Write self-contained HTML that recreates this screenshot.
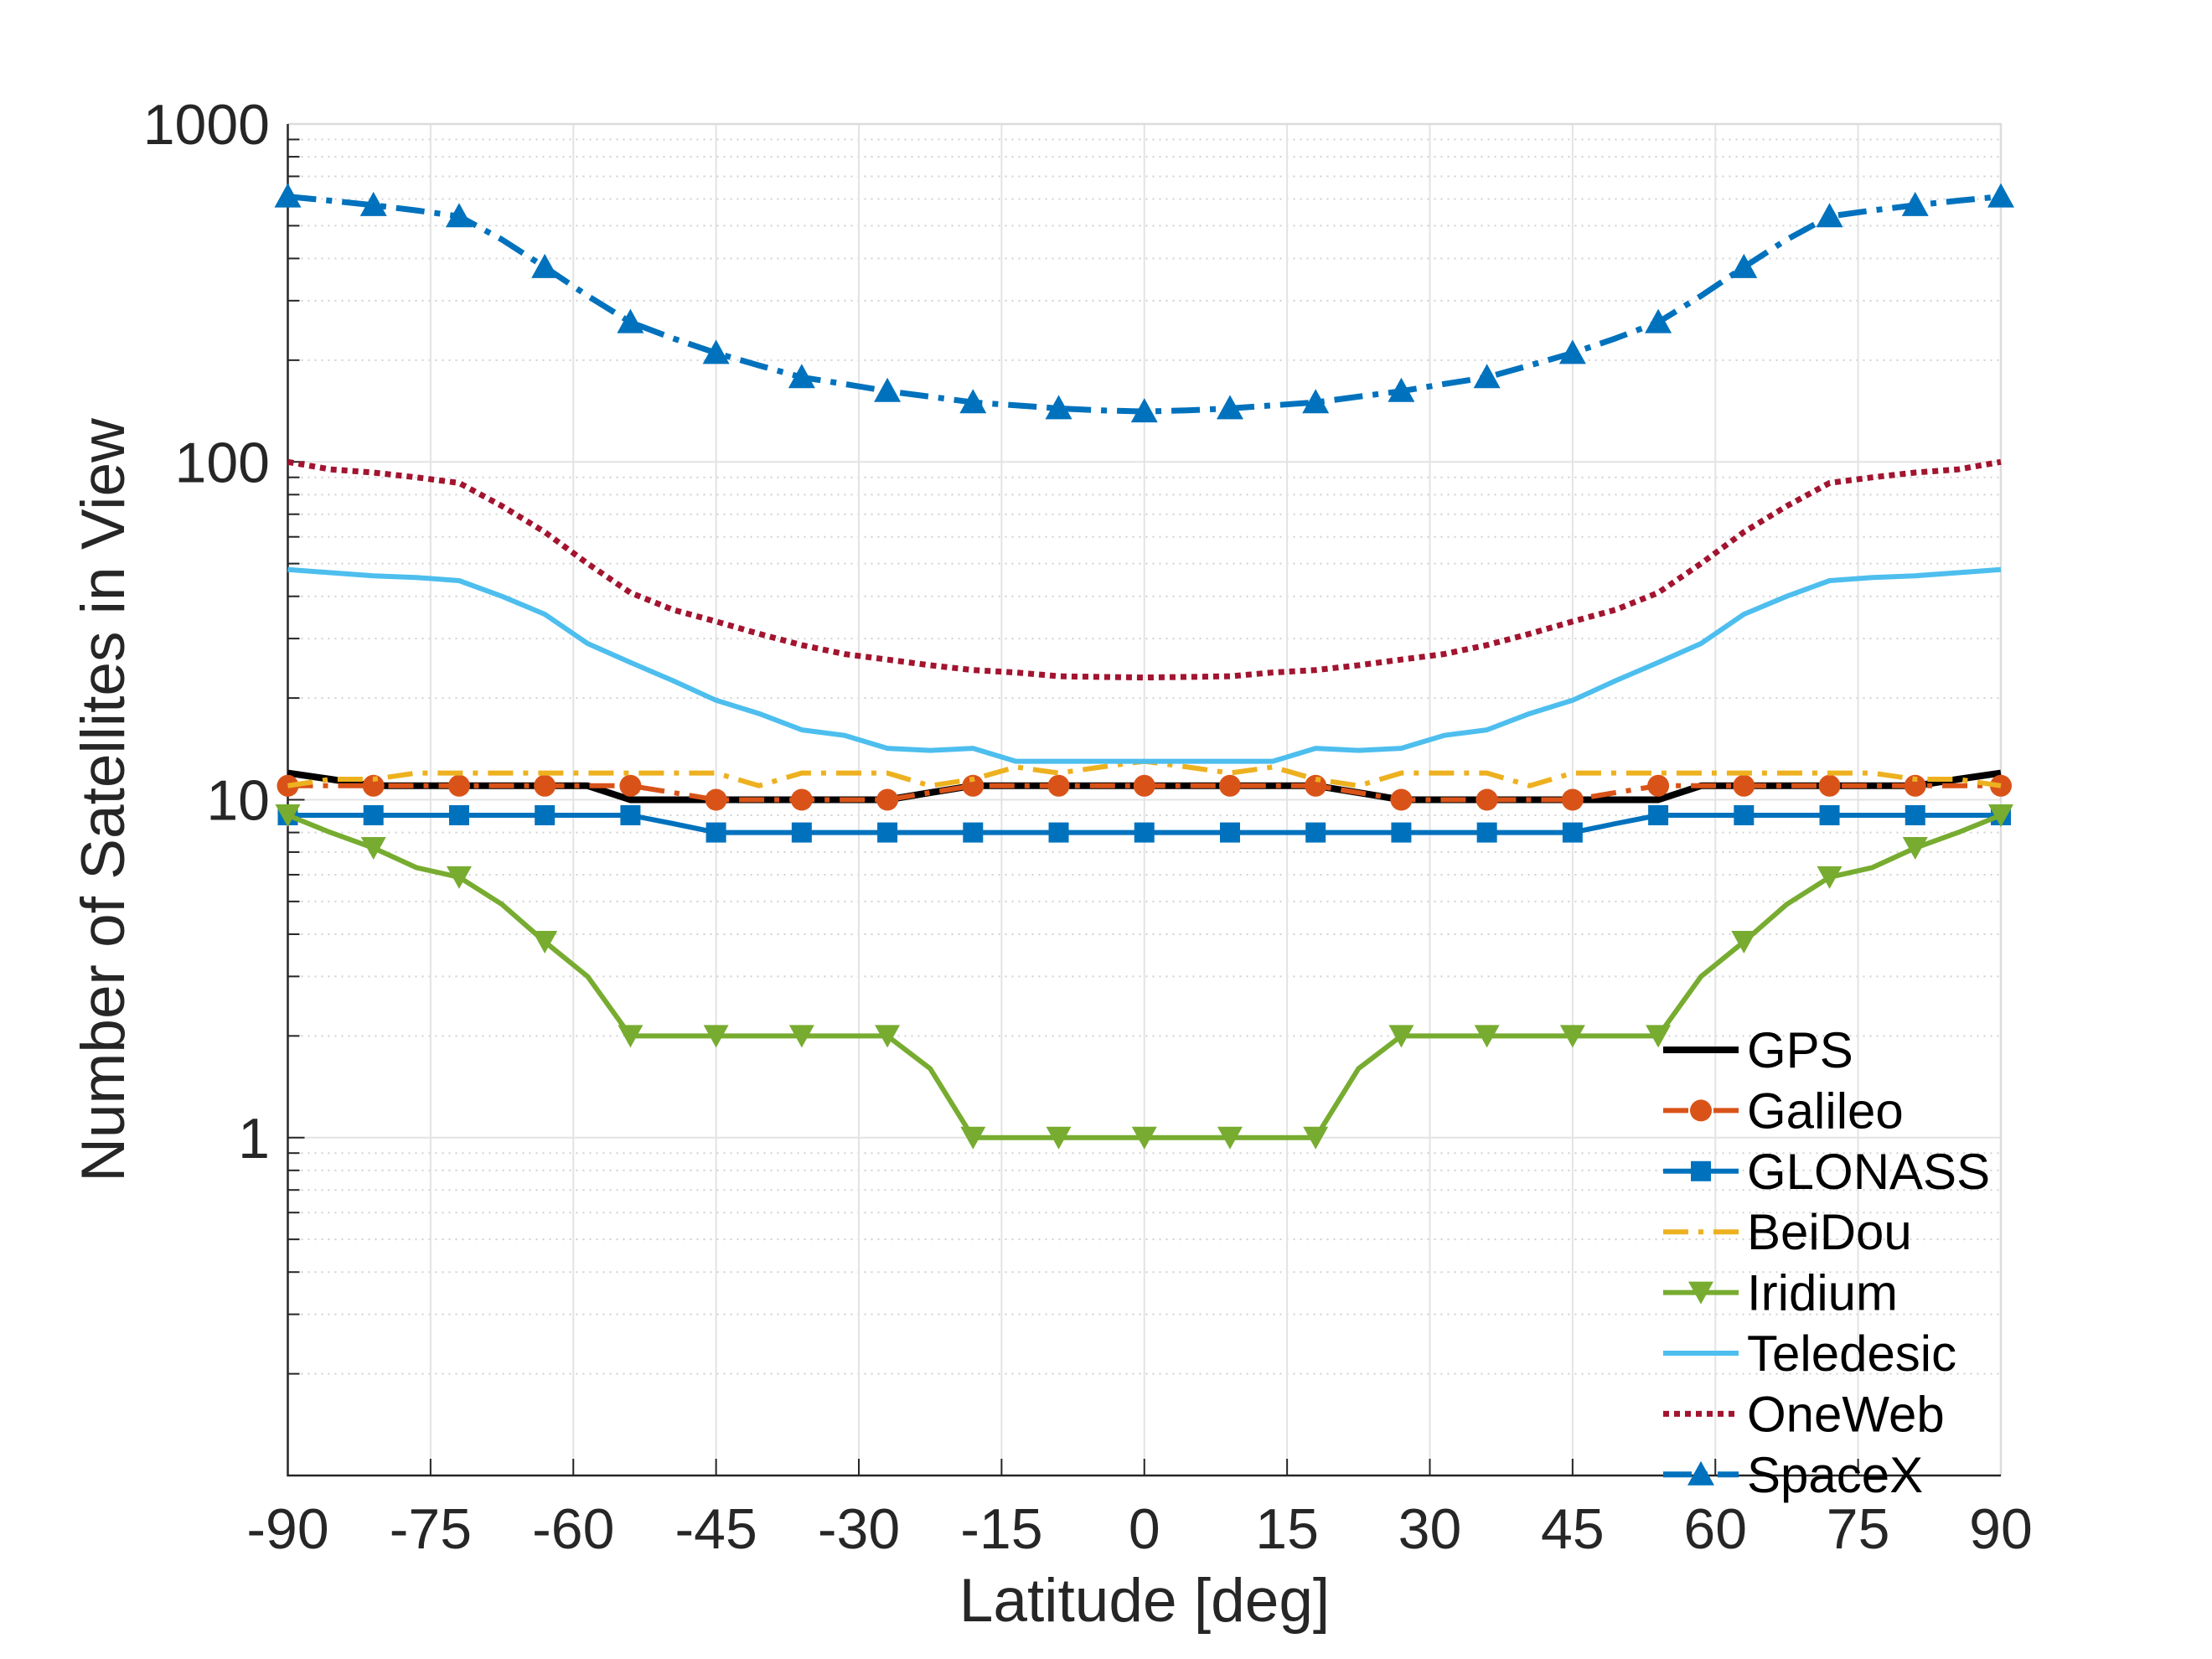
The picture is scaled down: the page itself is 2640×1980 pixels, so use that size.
<!DOCTYPE html>
<html><head><meta charset="utf-8"><style>
html,body{margin:0;padding:0;background:#fff;}
svg{display:block;font-family:"Liberation Sans",Arial,sans-serif;}
</style></head><body>
<svg id="chart" width="2640" height="1980" viewBox="0 0 2640 1980" xmlns="http://www.w3.org/2000/svg">
<g id="grid"></g>
<g id="axes"></g>
<g id="series"></g>
<g id="legend"></g>
<text x="1366" y="1935" font-size="73" text-anchor="middle" fill="#262626">Latitude [deg]</text>
<text x="0" y="0" font-size="73" text-anchor="middle" fill="#262626" transform="translate(148,955) rotate(-90)">Number of Satellites in View</text>
</svg>
<script>
const latitudes = [-90,-85.5,-81,-76.5,-72,-67.5,-63,-58.5,-54,-49.5,-45,-40.5,-36,-31.5,-27,-22.5,-18,-13.5,-9,-4.5,0,4.5,9,13.5,18,22.5,27,31.5,36,40.5,45,49.5,54,58.5,63,67.5,72,76.5,81,85.5,90];
const gpsValues = [12,11.5,11,11,11,11,11,11,10,10,10,10,10,10,10,10.5,11,11,11,11,11,11,11,11,11,10.5,10,10,10,10,10,10,10,11,11,11,11,11,11,11.5,12];
const galileoValues = [11,11,11,11,11,11,11,11,11,10.5,10,10,10,10,10,10.5,11,11,11,11,11,11,11,11,11,10.5,10,10,10,10,10,10.5,11,11,11,11,11,11,11,11,11];
const glonassValues = [9,9,9,9,9,9,9,9,9,8.5,8,8,8,8,8,8,8,8,8,8,8,8,8,8,8,8,8,8,8,8,8,8.5,9,9,9,9,9,9,9,9,9];
const beidouValues = [11,11.5,11.5,12,12,12,12,12,12,12,12,11,12,12,12,11,11.5,12.5,12,12.5,13,12.5,12,12.5,11.5,11,12,12,12,11,12,12,12,12,12,12,12,12,11.5,11.5,11];
const iridiumValues = [9,8,7.2,6.3,5.9,4.9,3.8,3,2,2,2,2,2,2,2,1.6,1,1,1,1,1,1,1,1,1,1.6,2,2,2,2,2,2,2,3,3.8,4.9,5.9,6.3,7.2,8,9];
const teledesicValues = [48,47,46,45.5,44.5,40,35.4,29,25.5,22.5,19.7,18,16.1,15.5,14.2,14,14.2,13,13,13,13,13,13,13,14.2,14,14.2,15.5,16.1,18,19.7,22.5,25.5,29,35.4,40,44.5,45.5,46,47,48];
const onewebValues = [100,95,93,90,86.6,74,62,50,41,36.5,33.7,31,28.7,27,26,25,24.2,23.8,23.2,23.1,23,23.1,23.2,23.8,24.2,25,26,27,28.7,31,33.7,36.5,41,50,62,74,86.6,90,93,95,100];
const spacexValues = [610,593,575,555,533,455,377,310,259,232,210,193,178,170,162,156,150,147,144,142,141,142,144,147,150,156,162,170,178,193,210,232,259,310,377,455,533,555,575,593,610];
const xTicks = [-90,-75,-60,-45,-30,-15,0,15,30,45,60,75,90];
const yTicks = [1,10,100,1000];
const seriesNames = ["GPS","Galileo","GLONASS","BeiDou","Iridium","Teledesic","OneWeb","SpaceX"];

const NS="http://www.w3.org/2000/svg";
const L=343.5,R=2388,T=148,B=1761;
function xs(v){return L+(v+90)/180*(R-L);}
function ys(v){return B-(Math.log10(v)+1)/4*(B-T);}
function mk(tag,attrs,parent){const e=document.createElementNS(NS,tag);for(const k in attrs)e.setAttribute(k,attrs[k]);parent.appendChild(e);return e;}
const grid=document.getElementById('grid'),axes=document.getElementById('axes'),ser=document.getElementById('series'),leg=document.getElementById('legend');

for(let d=-1;d<3;d++){for(let m=2;m<=9;m++){const y=ys(m*Math.pow(10,d));
 const g=mk('line',{x1:L,x2:R,y1:y,y2:y,stroke:'#d0d0d0','stroke-width':2,'stroke-dasharray':'2 6'},grid);
 
 const t1=mk('line',{x1:L,x2:L+14,y1:y,y2:y,stroke:'#262626','stroke-width':2},axes);
 }}
xTicks.forEach(v=>{const x=xs(v);
 const g=mk('line',{x1:x,x2:x,y1:T,y2:B,stroke:'#e3e3e3','stroke-width':2},grid);
 
 const t=mk('line',{x1:x,x2:x,y1:B,y2:B-20,stroke:'#262626','stroke-width':2},axes);
 
 const lb=mk('text',{x:x,y:1848,'font-size':68,'text-anchor':'middle',fill:'#262626'},axes);lb.textContent=String(v);
 });
yTicks.forEach(v=>{const y=ys(v);
 const g=mk('line',{x1:L,x2:R,y1:y,y2:y,stroke:'#e3e3e3','stroke-width':2},grid);
 
 const t=mk('line',{x1:L,x2:L+20,y1:y,y2:y,stroke:'#262626','stroke-width':2},axes);
 
 const lb=mk('text',{x:322,y:y+24,'font-size':68,'text-anchor':'end',fill:'#262626'},axes);lb.textContent=String(v);
 });
const fr2=mk('path',{d:`M${L},${T}H${R}V${B}`,fill:'none',stroke:'#dcdcdc','stroke-width':2.5},axes);

const fr=mk('path',{d:`M${L},${T}V${B}H${R}`,fill:'none',stroke:'#262626','stroke-width':2.5},axes);

const styles=[
 {vals:gpsValues,color:'#000000',dash:'',w:8,marker:null},
 {vals:galileoValues,color:'#D95319',dash:'30 12 6 12',w:6,marker:'circle'},
 {vals:glonassValues,color:'#0072BD',dash:'',w:6,marker:'square'},
 {vals:beidouValues,color:'#EDB120',dash:'30 12 6 12',w:6,marker:null},
 {vals:iridiumValues,color:'#77AC30',dash:'',w:6,marker:'down'},
 {vals:teledesicValues,color:'#4DBEEE',dash:'',w:6,marker:null},
 {vals:onewebValues,color:'#A2142F',dash:'7 6',w:7,marker:null},
 {vals:spacexValues,color:'#0072BD',dash:'34 12 7 12',w:7,marker:'up'}];
function marker(type,x,y,color,parent){let e;
 if(type==='circle')e=mk('circle',{cx:x,cy:y,r:13,fill:color},parent);
 else if(type==='square')e=mk('rect',{x:x-12,y:y-12,width:24,height:24,fill:color},parent);
 else if(type==='down')e=mk('polygon',{points:`${x-15},${y-13} ${x+15},${y-13} ${x},${y+14}`,fill:color},parent);
 else e=mk('polygon',{points:`${x-16},${y+13} ${x+16},${y+13} ${x},${y-16}`,fill:color},parent);
 return e;}
styles.forEach((s,si)=>{const g=mk('g',{},ser);
 
 const d=s.vals.map((v,i)=>(i?'L':'M')+xs(latitudes[i]).toFixed(1)+','+ys(v).toFixed(1)).join('');
 const p=mk('path',{d:d,fill:'none',stroke:s.color,'stroke-width':s.w,'stroke-dasharray':s.dash,'stroke-linejoin':'round'},g);
 
 if(s.marker){s.vals.forEach((v,i)=>{if(i%2)return;const m=marker(s.marker,xs(latitudes[i]),ys(v),s.color,g);
  });}
 const ly=1253+72.4*si;
 const lg=mk('g',{},leg);
 
 mk('line',{x1:1985,x2:2075,y1:ly,y2:ly,stroke:s.color,'stroke-width':s.w,'stroke-dasharray':s.dash},lg);
 if(s.marker)marker(s.marker,2030,ly,s.color,lg);
 const t=mk('text',{x:2085,y:ly+21,'font-size':60,fill:'#000'},lg);t.textContent=seriesNames[si];
});
</script>
</body></html>
